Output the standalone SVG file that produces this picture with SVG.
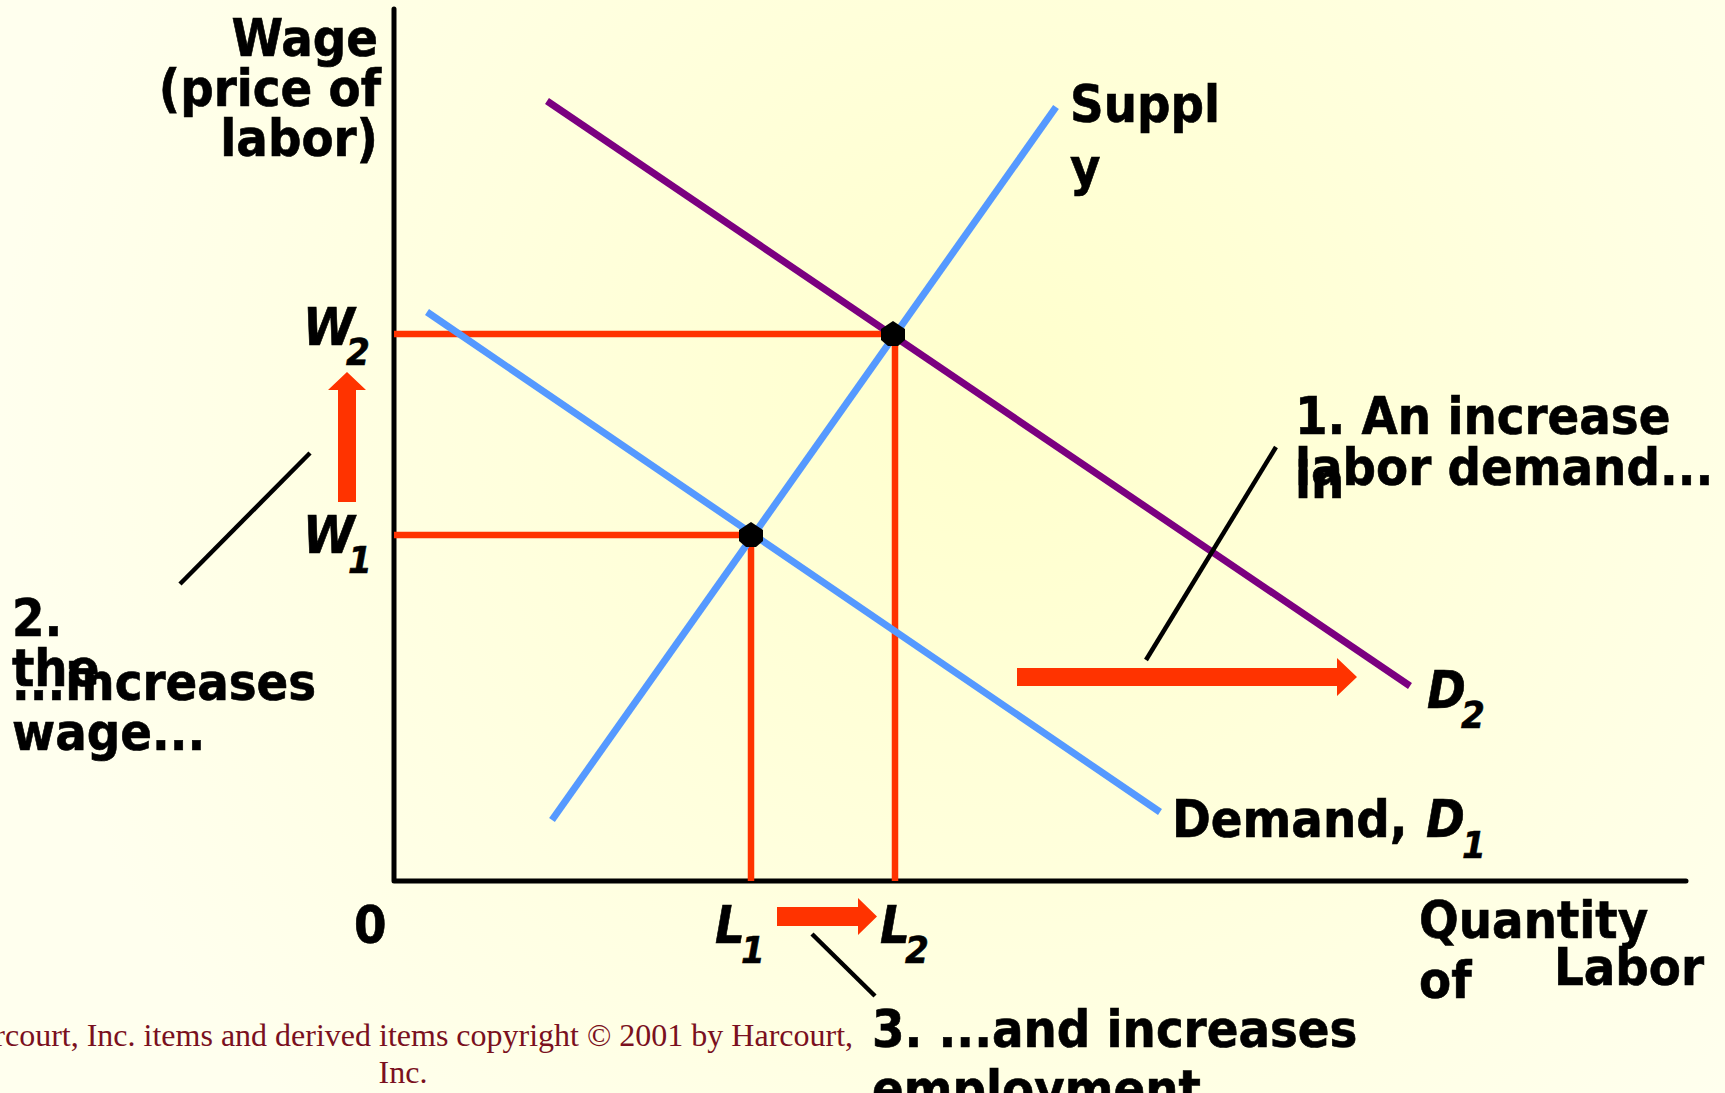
<svg xmlns="http://www.w3.org/2000/svg" width="1725" height="1093" viewBox="0 0 1725 1093">
<defs>
<radialGradient id="bg" cx="1000" cy="400" r="1000" gradientUnits="userSpaceOnUse">
<stop offset="0" stop-color="#FFFFCC"/>
<stop offset="1" stop-color="#FFFFEE"/>
</radialGradient>
<style>
.t{font-family:"DejaVu Sans Condensed","DejaVu Sans",sans-serif;font-weight:bold;font-stretch:semi-condensed;font-size:52px;fill:#000;stroke:#000;stroke-width:0.6}
.i{font-style:italic}
.s{font-size:38px;font-style:italic}
.axis{stroke:#000;stroke-width:5;fill:none;stroke-linecap:round;stroke-linejoin:round}
.red{stroke:#FF3300;stroke-width:6.5;fill:none}
.blue{stroke:#5599FF;stroke-width:7;fill:none}
.purple{stroke:#7B0080;stroke-width:7;fill:none}
.lead{stroke:#000;stroke-width:4.5;fill:none}
.arrow{fill:#FF3300}
.cr{font-family:"Liberation Serif","Times New Roman",serif;font-size:32px;fill:#7A1020}
</style>
</defs>
<rect width="1725" height="1093" fill="url(#bg)"/>
<g id="connectors">
<path class="axis" d="M394,9 L394,881 L1686,881"/>
<path class="red" d="M394,334 H893 M394,535 H751 M751,535 V881 M895,334 V881"/>
<line class="blue" x1="552" y1="820" x2="1056" y2="107"/>
<line class="blue" x1="427" y1="312" x2="1160" y2="812"/>
<line class="purple" x1="547" y1="101" x2="1410" y2="686"/>
<polygon class="arrow" points="338,502 338,390 328,390 347,372 366,390 356,390 356,502"/>
<polygon class="arrow" points="1017,668 1337,668 1337,658 1357,677 1337,696 1337,686 1017,686"/>
<polygon class="arrow" points="777,907 858,907 858,898 877,916.5 858,935 858,926 777,926"/>
<line class="lead" x1="310" y1="453" x2="180" y2="584"/>
<line class="lead" x1="1276" y1="447" x2="1146" y2="660"/>
<line class="lead" x1="812" y1="934" x2="875" y2="996"/>
</g>
<g id="equilibrium-1"><polygon points="751,522 763,530 763,541 756,547 746,547 739,541 739,530" fill="#000"/></g>
<g id="equilibrium-2"><polygon points="893,321 905,329 905,340 898,346 888,346 881,340 881,329" fill="#000"/></g>
<g id="y-axis-label">
<text class="t" x="378" y="56" text-anchor="end">Wage</text>
<text class="t" x="381" y="106" text-anchor="end">(price of</text>
<text class="t" x="378" y="156" text-anchor="end">labor)</text>
</g>
<g id="supply-label">
<text class="t" x="1070" y="122">Suppl</text>
<text class="t" x="1070" y="185">y</text>
</g>
<g id="label-1">
<text class="t" x="1295" y="434">1. An increase</text>
<text class="t" x="1295" y="498">in</text>
<text class="t" x="1295" y="485">labor demand...</text>
</g>
<g id="d2-label">
<text class="t i" x="1427" y="708">D</text>
<text class="t s" x="1461" y="728">2</text>
</g>
<g id="d1-label">
<text class="t" x="1172" y="837">Demand,</text>
<text class="t i" x="1426" y="837">D</text>
<text class="t s" x="1462" y="858">1</text>
</g>
<g id="w2-label">
<text class="t i" x="303" y="345">W</text>
<text class="t s" x="346" y="365">2</text>
</g>
<g id="w1-label">
<text class="t i" x="303" y="553">W</text>
<text class="t s" x="348" y="573">1</text>
</g>
<g id="label-2">
<text class="t" x="12" y="636">2.</text>
<text class="t" x="12" y="686">the</text>
<text class="t" x="12" y="700">...increases</text>
<text class="t" x="12" y="750">wage...</text>
</g>
<g id="origin"><text class="t" x="354" y="943">0</text></g>
<g id="l1-label">
<text class="t i" x="715" y="943">L</text>
<text class="t s" x="741" y="963">1</text>
</g>
<g id="l2-label">
<text class="t i" x="880" y="943">L</text>
<text class="t s" x="905" y="963">2</text>
</g>
<g id="x-axis-label">
<text class="t" x="1419" y="938">Quantity</text>
<text class="t" x="1419" y="998">of</text>
<text class="t" x="1554" y="985">Labor</text>
</g>
<g id="label-3">
<text class="t" x="872" y="1047">3. ...and increases</text>
<text class="t" x="872" y="1107">employment</text>
</g>
<g id="copyright">
<text class="cr" x="405" y="1046" text-anchor="middle">Harcourt, Inc. items and derived items copyright © 2001 by Harcourt,</text>
<text class="cr" x="403" y="1083" text-anchor="middle">Inc.</text>
</g>
</svg>
